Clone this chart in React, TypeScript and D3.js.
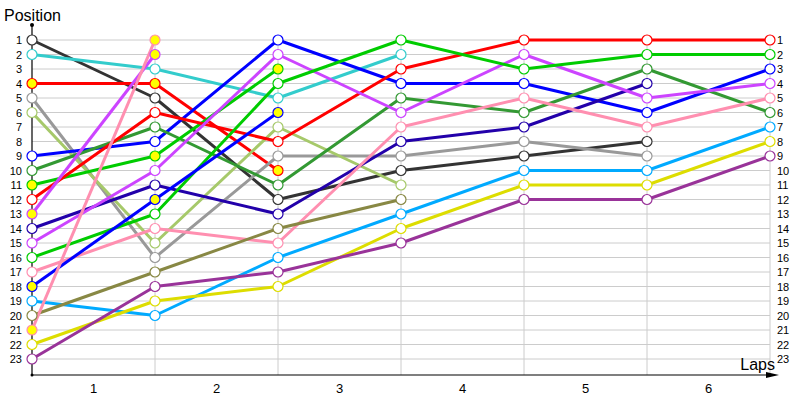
import React from "react";
import * as d3 from "d3";

const laps = [0, 1, 2, 3, 4, 5, 6];
const lapLabels = ["1", "2", "3", "4", "5", "6"];
const positions = d3.range(1, 24);

const driverColors = [
  "#333333", "#33cccc", "#ff0000", "#999999", "#a6c96a", "#0000ff", "#339933",
  "#00cc00", "#ff0000", "#cc44ff", "#2200aa", "#cc44ff", "#00cc00", "#ff8fb0",
  "#0000ff", "#00aaff", "#888844", "#ff8fb0", "#dddd00", "#993399",
];
const driverFilled = [
  false, false, true, false, false, false, false,
  true, false, true, false, false, false, false,
  true, false, false, true, false, false,
];
const driverPositions: number[][] = [
  [1, 5, 12, 10, 9, 8],
  [2, 3, 5, 2],
  [4, 4, 10],
  [5, 16, 9, 9, 8, 9],
  [6, 15, 7, 11],
  [9, 8, 1, 4, 4, 6, 3],
  [10, 7, 11, 5, 6, 3, 6],
  [11, 9, 3],
  [12, 6, 8, 3, 1, 1, 1],
  [13, 2],
  [14, 11, 13, 8, 7, 4],
  [15, 10, 2, 6, 2, 5, 4],
  [16, 13, 4, 1, 3, 2, 2],
  [17, 14, 15, 7, 5, 7, 5],
  [18, 12, 6],
  [19, 20, 16, 13, 10, 10, 7],
  [20, 17, 14, 12],
  [21, 1],
  [22, 19, 18, 14, 11, 11, 8],
  [23, 18, 17, 15, 12, 12, 9],
];

export default function App() {
  const W = 800, H = 400;
  const x = d3.scaleLinear().domain([0, 6]).range([32, 770]);
  const y = d3.scaleLinear().domain([1, 23]).range([40, 359]);
  const axisY = 375;
  const font = "Tahoma, 'DejaVu Sans', sans-serif";
  const line = d3.line<number>().x((_, i) => x(i)).y((p) => y(p));

  return (
    <svg width={W} height={H} style={{ position: "absolute", left: 0, top: 0, background: "#fff" }}
      fontFamily="'Liberation Sans', Arial, sans-serif">
      {/* horizontal grid */}
      {positions.map((p) => (
        <line key={"h" + p} x1={x(0)} x2={x(6)} y1={y(p)} y2={y(p)} stroke="#cccccc" strokeWidth={1} />
      ))}
      {/* vertical grid */}
      {laps.slice(1).map((l) => (
        <line key={"v" + l} x1={x(l)} x2={x(l)} y1={y(1)} y2={axisY} stroke="#cccccc" strokeWidth={1} />
      ))}
      {/* axes */}
      <line x1={x(0)} x2={x(0)} y1={25} y2={axisY} stroke="#000" strokeWidth={1.2} />
      <circle cx={x(0)} cy={25} r={2} fill="#000" />
      <line x1={x(0)} x2={772} y1={axisY} y2={axisY} stroke="#000" strokeWidth={1.2} />
      <path d={`M766,${axisY - 3} L779,${axisY} L766,${axisY + 3} Z`} fill="#000" />
      <circle cx={x(0)} cy={axisY} r={1.5} fill="#000" />
      <text x={4} y={21} fontSize={16} fill="#000">Position</text>
      <text x={775} y={370} fontSize={16} fill="#000" textAnchor="end">Laps</text>
      {/* y labels */}
      {positions.map((p) => (
        <g key={"yl" + p}>
          <text x={22} y={y(p) + 4} fontSize={11} textAnchor="end" fill="#000">{p}</text>
          <text x={777} y={y(p) + 4} fontSize={11} textAnchor="start" fill="#000">{p}</text>
        </g>
      ))}
      {/* x labels */}
      {lapLabels.map((lab, i) => (
        <text key={"xl" + i} x={(x(i) + x(i + 1)) / 2} y={393} fontSize={13} textAnchor="middle" fill="#000">{lab}</text>
      ))}
      {/* lines */}
      {driverPositions.map((ps, i) => (
        <path key={"l" + i} d={line(ps) || ""} fill="none" stroke={driverColors[i]} strokeWidth={3} strokeLinejoin="round" />
      ))}
      {/* markers */}
      {driverPositions.map((ps, i) => (
        <g key={"m" + i}>
          {ps.map((p, j) => (
            <circle key={j} cx={x(j)} cy={y(p)} r={5} fill={driverFilled[i] ? "#ffff00" : "#ffffff"}
              stroke={driverColors[i]} strokeWidth={1.2} />
          ))}
        </g>
      ))}
    </svg>
  );
}
